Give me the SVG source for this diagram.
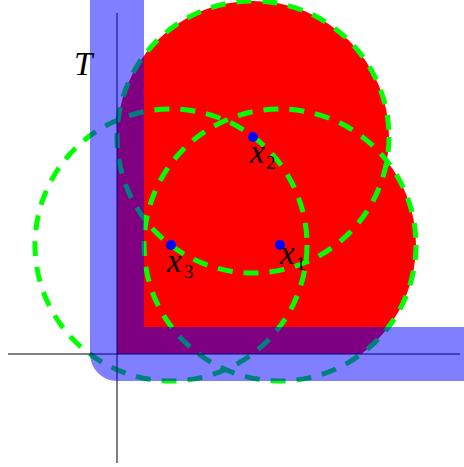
<svg xmlns="http://www.w3.org/2000/svg" width="464" height="467" viewBox="0 0 464 467">
  <style>
    .ball { fill: none; stroke: #00FF00; stroke-width: 5; stroke-dasharray: 15 11; }
    .axis { stroke: #000; stroke-width: 1; fill: none; }
    .pt { fill: #0000FF; }
    .lbl { font-family: "Liberation Serif", "Times New Roman", serif; font-style: italic; font-size: 33px; fill: #000; }
    .sub { font-family: "Liberation Serif", "Times New Roman", serif; font-style: normal; font-size: 19px; fill: #000; }
  </style>
  <defs>
    <clipPath id="quad">
      <rect x="117" y="0" width="347" height="354"/>
    </clipPath>
  </defs>
  <g id="region" clip-path="url(#quad)" fill="#FF0000">
    <circle cx="280" cy="245" r="136"/>
    <circle cx="253" cy="137" r="136"/>
    <circle cx="171" cy="245" r="136"/>
  </g>
  <g id="balls">
    <circle class="ball" cx="280" cy="245" r="136"/>
    <circle class="ball" cx="253" cy="137" r="136"/>
    <circle class="ball" cx="171" cy="245" r="136"/>
  </g>
  <g id="axes">
    <line class="axis" x1="117" y1="13" x2="117" y2="463"/>
    <line class="axis" x1="8" y1="354" x2="460" y2="354"/>
  </g>
  <g id="T">
    <path d="M117,0 L117,354 L464,354" fill="none" stroke="#0000FF" stroke-opacity="0.5" stroke-width="54" stroke-linejoin="round"/>
    <text class="lbl" x="74" y="75">T</text>
  </g>
  <g id="x1">
    <circle class="pt" cx="280" cy="245" r="5"/>
    <text class="lbl" x="280" y="264">x</text>
    <text class="sub" x="296" y="270">1</text>
  </g>
  <g id="x2">
    <circle class="pt" cx="253" cy="137" r="5"/>
    <text class="lbl" x="250" y="163">x</text>
    <text class="sub" x="266" y="169">2</text>
  </g>
  <g id="x3">
    <circle class="pt" cx="171" cy="245" r="5"/>
    <text class="lbl" x="167" y="272">x</text>
    <text class="sub" x="184" y="278">3</text>
  </g>
</svg>
